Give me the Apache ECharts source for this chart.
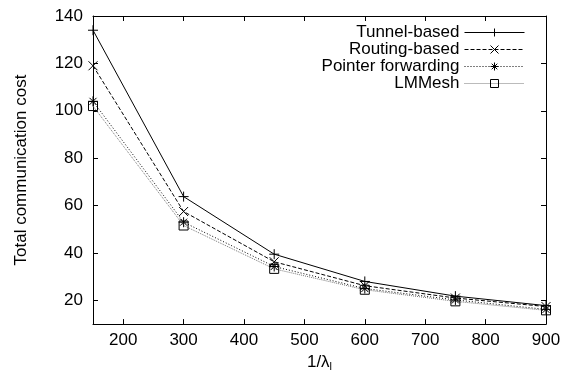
<!DOCTYPE html>
<html>
<head>
<meta charset="utf-8">
<script src="https://cdn.jsdelivr.net/npm/echarts@6/dist/echarts.min.js"></script>
<style>
html, body { margin: 0; padding: 0; background: #fff; }
#chart { width: 569px; height: 377px; }
</style>
</head>
<body>
<div id="chart"></div>
<script>
var xValues = [150, 300, 450, 600, 750, 900];
var tunnelBased = [134, 63.8, 39.5, 28, 21.8, 17.8];
var routingBased = [119, 57.5, 36.3, 26.2, 21, 17.4];
var pointerForwarding = [104, 53, 34.3, 25, 20.2, 16.2];
var lmMesh = [102, 51.6, 33.3, 24.5, 19.6, 15.8];
var xTicks = [200, 300, 400, 500, 600, 700, 800, 900];
var yTicks = [20, 40, 60, 80, 100, 120, 140];

var fontFamily = '"Liberation Sans", Arial, sans-serif';
var fontSize = 17;

var plusPath = 'path://M0,5L10,5M5,0L5,10';
var crossPath = 'path://M0,0L10,10M10,0L0,10';
var starPath = 'path://M0,5L10,5M5,0L5,10M1.5,1.5L8.5,8.5M8.5,1.5L1.5,8.5';

function pairs(ys) {
    return ys.map(function (y, i) {
        return [xValues[i], y];
    });
}

function makeSeries(name, ys, symbol, size, lineType, color) {
    return {
        name: name,
        type: 'line',
        data: pairs(ys),
        symbol: symbol,
        symbolSize: size,
        showAllSymbol: true,
        lineStyle: { color: color, width: 1, type: lineType },
        itemStyle: { color: 'rgba(0,0,0,0)', borderColor: '#000', borderWidth: 1 },
        emphasis: { disabled: true },
        animation: false
    };
}

var chart = echarts.init(document.getElementById('chart'));

var option = {
    animation: false,
    grid: { left: 93, right: 23, top: 16, bottom: 52 },
    legend: {
        orient: 'vertical',
        right: 39,
        top: 19,
        align: 'right',
        itemWidth: 60,
        itemHeight: 10,
        itemGap: 0,
        lineStyle: { width: 1 },
        itemStyle: { color: 'rgba(0,0,0,0)', borderColor: '#000', borderWidth: 1 },
        textStyle: { fontFamily: fontFamily, fontSize: fontSize, color: '#000', lineHeight: 15.7 },
        data: ['Tunnel-based', 'Routing-based', 'Pointer forwarding', 'LMMesh']
    },
    xAxis: [{
        type: 'value',
        min: 150,
        max: 900,
        name: '1/λ{sub|l}',
        nameLocation: 'middle',
        nameGap: 27,
        nameTextStyle: {
            fontFamily: fontFamily, fontSize: fontSize, color: '#000',
            rich: { sub: { fontFamily: fontFamily, fontSize: 11, verticalAlign: 'bottom', padding: [8, 0, 0, 0] } }
        },
        axisLine: { lineStyle: { color: '#000', width: 1 } },
        axisTick: { inside: true, length: 5, customValues: xTicks, lineStyle: { color: '#000' } },
        axisLabel: { customValues: xTicks, fontFamily: fontFamily, fontSize: fontSize, color: '#000', margin: 8 },
        splitLine: { show: false }
    }, {
        type: 'value',
        position: 'top',
        min: 150,
        max: 900,
        axisLine: { lineStyle: { color: '#000', width: 1 } },
        axisTick: { inside: true, length: 5, customValues: xTicks, lineStyle: { color: '#000' } },
        axisLabel: { show: false },
        splitLine: { show: false }
    }],
    yAxis: [{
        type: 'value',
        min: 10,
        max: 140,
        name: 'Total communication cost',
        nameLocation: 'middle',
        nameGap: 63,
        nameTextStyle: { fontFamily: fontFamily, fontSize: fontSize, color: '#000' },
        axisLine: { show: true, lineStyle: { color: '#000', width: 1 } },
        axisTick: { show: true, inside: true, length: 5, customValues: yTicks, lineStyle: { color: '#000' } },
        axisLabel: { customValues: yTicks, fontFamily: fontFamily, fontSize: fontSize, color: '#000', margin: 10 },
        splitLine: { show: false }
    }, {
        type: 'value',
        position: 'right',
        min: 10,
        max: 140,
        axisLine: { show: true, lineStyle: { color: '#000', width: 1 } },
        axisTick: { show: true, inside: true, length: 5, customValues: yTicks, lineStyle: { color: '#000' } },
        axisLabel: { show: false },
        splitLine: { show: false }
    }],
    series: [
        makeSeries('Tunnel-based', tunnelBased, plusPath, 10, 'solid', '#000'),
        makeSeries('Routing-based', routingBased, crossPath, 9, [4, 2], '#000'),
        makeSeries('Pointer forwarding', pointerForwarding, starPath, 10, [1, 2], '#000'),
        makeSeries('LMMesh', lmMesh, 'rect', 9, [1, 1], '#777')
    ]
};

chart.setOption(option);
</script>
</body>
</html>
